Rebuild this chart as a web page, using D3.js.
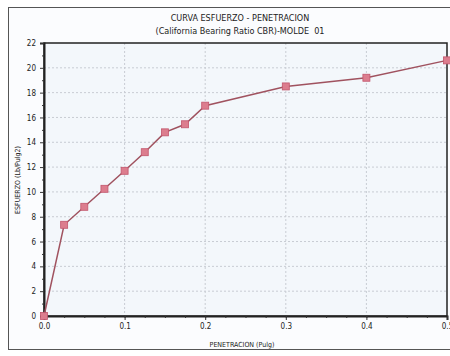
<!DOCTYPE html>
<html>
<head>
<meta charset="utf-8">
<script src="https://cdn.jsdelivr.net/npm/d3@7"></script>
<style>
  body { margin: 0; background: #fff; }
  svg { display: block; }
</style>
</head>
<body>
<div class="chart"></div>
<script>
// CBR curve - penetracion (pulg) vs esfuerzo (Lb/pulg2)
let penetracion = [0, 0.025, 0.05, 0.075, 0.1, 0.125, 0.15, 0.175, 0.2, 0.3, 0.4, 0.5];
let esfuerzo = [0, 7.35, 8.8, 10.25, 11.7, 13.2, 14.8, 15.45, 16.95, 18.5, 19.2, 20.6];
let xTicks = [0, 0.1, 0.2, 0.3, 0.4, 0.5];
let yTicks = [0, 2, 4, 6, 8, 10, 12, 14, 16, 18, 20, 22];

let width = 450, height = 356;
let font = '"Liberation Sans Narrow", "Arial Narrow", "DejaVu Sans Condensed", sans-serif';

let svg = d3.select('div.chart').append('svg')
  .attr('width', width)
  .attr('height', height);

// outer frame
svg.append('rect')
  .attr('x', 8.5).attr('y', 7.5)
  .attr('width', 460).attr('height', 342)
  .attr('fill', '#fbfcfe')
  .attr('stroke', '#555').attr('stroke-width', 1);

let plot = {left: 44, right: 447, top: 43, bottom: 316};

let x = d3.scaleLinear().domain([0, 0.5]).range([plot.left, plot.right]);
let y = d3.scaleLinear().domain([0, 22]).range([plot.bottom, plot.top]);

svg.append('rect')
  .attr('x', plot.left).attr('y', plot.top)
  .attr('width', plot.right - plot.left).attr('height', plot.bottom - plot.top)
  .attr('fill', '#f3f7fb');

// grid
svg.append('g').selectAll('line')
  .data(yTicks.slice(1, -1))
  .enter().append('line')
  .attr('x1', plot.left).attr('x2', plot.right)
  .attr('y1', d => y(d)).attr('y2', d => y(d))
  .attr('stroke', '#c8ccd3').attr('stroke-width', 1)
  .attr('stroke-dasharray', '2,2');

svg.append('g').selectAll('line')
  .data(xTicks.slice(1, -1))
  .enter().append('line')
  .attr('x1', d => x(d)).attr('x2', d => x(d))
  .attr('y1', plot.top).attr('y2', plot.bottom)
  .attr('stroke', '#c8ccd3').attr('stroke-width', 1)
  .attr('stroke-dasharray', '2,2');

// frame
svg.append('rect')
  .attr('x', plot.left).attr('y', plot.top)
  .attr('width', plot.right - plot.left).attr('height', plot.bottom - plot.top)
  .attr('fill', 'none')
  .attr('stroke', '#222').attr('stroke-width', 1.5);

// axes
let yAxis = d3.axisLeft(y).tickValues(yTicks).tickSize(4).tickPadding(4).tickFormat(d3.format('d'));
let xAxis = d3.axisBottom(x).tickValues(xTicks).tickSize(4).tickPadding(3).tickFormat(d3.format('.1f'));

let gy = svg.append('g')
  .attr('transform', 'translate(' + plot.left + ',0)')
  .call(yAxis);
let gx = svg.append('g')
  .attr('transform', 'translate(0,' + plot.bottom + ')')
  .call(xAxis);

// minor ticks
svg.append('g')
  .attr('transform', 'translate(' + plot.left + ',0)')
  .call(d3.axisLeft(y).tickValues(d3.range(1, 22, 2)).tickSize(2).tickFormat(''))
  .call(g => g.select('.domain').remove());
svg.append('g')
  .attr('transform', 'translate(0,' + plot.bottom + ')')
  .call(d3.axisBottom(x).tickValues(d3.range(0.025, 0.5, 0.025)).tickSize(2).tickFormat(''))
  .call(g => g.select('.domain').remove());

[gx, gy].forEach(g => {
  g.select('.domain').attr('stroke', '#222').attr('stroke-width', 2);
  g.selectAll('text').attr('font-family', font).attr('font-size', 8).attr('fill', '#222');
});
svg.selectAll('.tick line').attr('stroke', '#333');

// series
let line = d3.line()
  .x((d, i) => x(penetracion[i]))
  .y(d => y(d));

svg.append('path')
  .attr('d', line(esfuerzo))
  .attr('fill', 'none')
  .attr('stroke', '#a0525f')
  .attr('stroke-width', 1.5);

svg.append('g').selectAll('rect')
  .data(esfuerzo)
  .enter().append('rect')
  .attr('x', (d, i) => x(penetracion[i]) - 3.5)
  .attr('y', d => y(d) - 3.5)
  .attr('width', 7).attr('height', 7)
  .attr('fill', '#dc7d8e')
  .attr('stroke', '#c2566c').attr('stroke-width', 0.8);

// titles
svg.append('text')
  .attr('x', 240).attr('y', 21)
  .attr('text-anchor', 'middle')
  .attr('font-family', font).attr('font-size', 9).attr('fill', '#222')
  .text('CURVA ESFUERZO - PENETRACION');
svg.append('text')
  .attr('x', 240).attr('y', 34)
  .attr('text-anchor', 'middle')
  .style('white-space', 'pre')
  .attr('font-family', font).attr('font-size', 9).attr('fill', '#222')
  .text('(California Bearing Ratio CBR)-MOLDE  01');

svg.append('text')
  .attr('x', 242).attr('y', 347)
  .attr('text-anchor', 'middle')
  .attr('font-family', font).attr('font-size', 7).attr('fill', '#222')
  .text('PENETRACION (Pulg)');

svg.append('text')
  .attr('transform', 'translate(20,180) rotate(-90)')
  .attr('text-anchor', 'middle')
  .attr('font-family', font).attr('font-size', 7).attr('fill', '#222')
  .text('ESFUERZO (Lb/Pulg2)');
</script>
</body>
</html>
